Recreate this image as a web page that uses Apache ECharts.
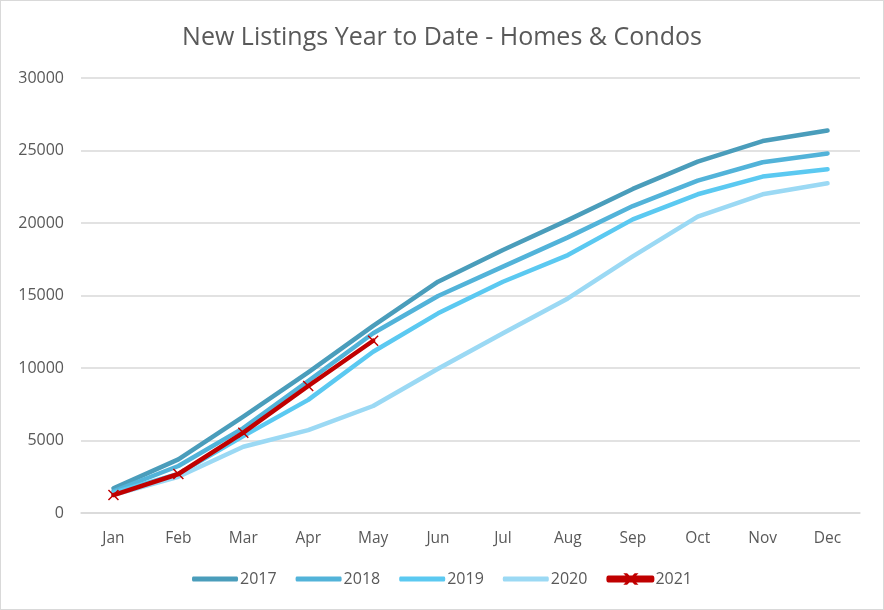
<!DOCTYPE html>
<html>
<head>
<meta charset="utf-8">
<script src="https://cdn.jsdelivr.net/npm/echarts@6/dist/echarts.min.js"></script>
<style>
html,body{margin:0;padding:0;background:#fff;}
#c{width:882px;height:608px;border:1px solid #d9d9d9;}
</style>
</head>
<body>
<div id="c"></div>
<script>
const categories = ['Jan','Feb','Mar','Apr','May','Jun','Jul','Aug','Sep','Oct','Nov','Dec'];
const s2017 = [1700, 3700, 6640, 9700, 12900, 15950, 18140, 20200, 22350, 24230, 25650, 26380];
const s2018 = [1500, 3240, 5850, 9100, 12400, 14970, 16990, 19010, 21170, 22920, 24190, 24800];
const s2019 = [1400, 2700, 5300, 7800, 11120, 13770, 15950, 17790, 20250, 21980, 23200, 23700];
const s2020 = [1250, 2500, 4570, 5720, 7380, 9950, 12400, 14800, 17700, 20440, 21980, 22740];
const s2021 = [1240, 2690, 5540, 8760, 11880];
const yTicks = [0, 5000, 10000, 15000, 20000, 25000, 30000];

const chart = echarts.init(document.getElementById('c'));
const font = 'Open Sans, Noto Sans, sans-serif';
const barIcon = 'path://M0,0M0,10M1,2.6L45,2.6Q46,2.6 46,4.6L46,5.4Q46,7.4 45,7.4L1,7.4Q0,7.4 0,5.4L0,4.6Q0,2.6 1,2.6Z';
const crossIcon = 'path://M0,0M0,10M1,2.6L45,2.6Q46,2.6 46,4.6L46,5.4Q46,7.4 45,7.4L1,7.4Q0,7.4 0,5.4L0,4.6Q0,2.6 1,2.6Z' +
  'M18.3,0.3L19.3,0.3L28.7,9.7L27.7,9.7ZM27.7,0.3L28.7,0.3L19.3,9.7L18.3,9.7Z';
function line(name, data, color) {
  return {
    name, type: 'line', data, symbol: 'none', smooth: false,
    lineStyle: {color, width: 4.5, cap: 'round', join: 'round'},
    itemStyle: {color},
    emphasis: {disabled: true}
  };
}
chart.setOption({
  animation: false,
  title: {
    text: 'New Listings Year to Date - Homes & Condos',
    left: 'center', top: 19,
    textStyle: {fontFamily: font, fontSize: 25, fontWeight: 'normal', color: '#595959'}
  },
  grid: {left: 80, right: 23, top: 77, bottom: 96, containLabel: false},
  legend: {
    bottom: 17, left: 'center', itemWidth: 46, itemHeight: 10, itemGap: 19,
    textStyle: {fontFamily: font, fontSize: 16, color: '#595959', padding: [0,0,0,-3]},
    data: [
      {name: '2017', icon: barIcon},
      {name: '2018', icon: barIcon},
      {name: '2019', icon: barIcon},
      {name: '2020', icon: barIcon},
      {name: '2021', icon: crossIcon}
    ]
  },
  xAxis: {
    type: 'category', data: categories, boundaryGap: true,
    axisLine: {show: true, lineStyle: {color: '#d9d9d9', width: 1.5}},
    axisTick: {show: false},
    axisLabel: {fontFamily: font, fontSize: 15.5, color: '#595959', margin: 18}
  },
  yAxis: {
    type: 'value', min: yTicks[0], max: yTicks[yTicks.length-1], interval: 5000,
    axisLine: {show: false}, axisTick: {show: false},
    splitLine: {lineStyle: {color: '#d9d9d9', width: 1.5}},
    axisLabel: {fontFamily: font, fontSize: 16, color: '#595959', margin: 17, formatter: v => String(v)}
  },
  series: [
    line('2017', s2017, '#4a9dbb'),
    line('2018', s2018, '#52b3d9'),
    line('2019', s2019, '#5bc9f1'),
    line('2020', s2020, '#9bd9f4'),
    {
      name: '2021', type: 'line', data: s2021,
      symbol: 'path://M0,0L10,10M10,0L0,10', symbolSize: 10,
      lineStyle: {color: '#c00000', width: 4.5, cap: 'round', join: 'round'},
      itemStyle: {color: '#c00000', borderColor: '#c00000', borderWidth: 1.5},
      emphasis: {disabled: true}
    }
  ]
});
</script>
</body>
</html>
